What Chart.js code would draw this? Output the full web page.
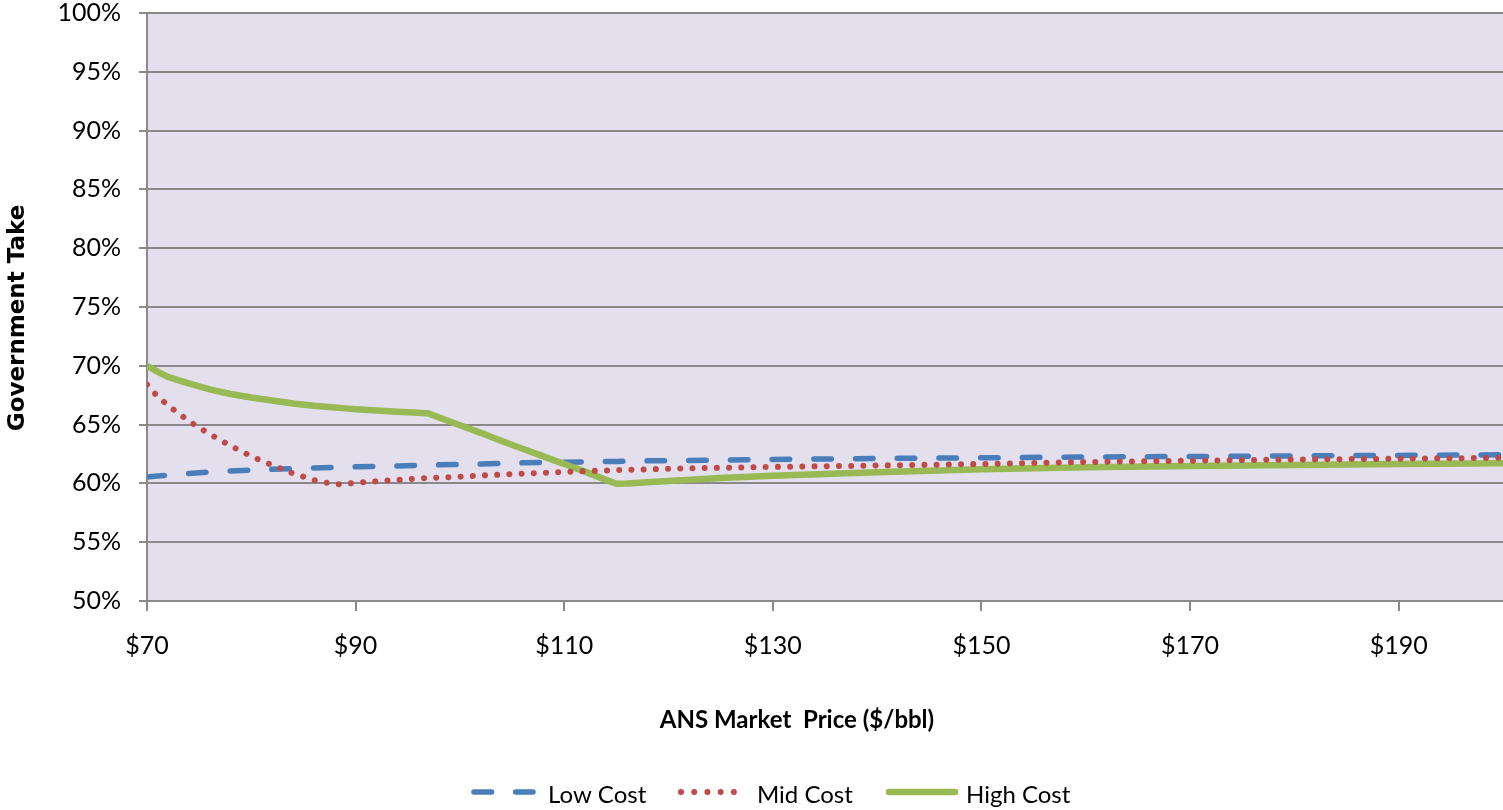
<!DOCTYPE html>
<html>
<head>
<meta charset="utf-8">
<script src="https://cdn.jsdelivr.net/npm/chart.js@4.4.1/dist/chart.umd.min.js"></script>
<style>
html,body{margin:0;padding:0;background:#ffffff;}
#wrap{width:1503px;height:810px;position:relative;}
</style>
</head>
<body>
<div id="wrap"><canvas id="c" width="1503" height="810"></canvas></div>
<script>
// ANS market price ($/bbl)
const prices = [70,71,72,74,76,78,80,82,84,86,88,89,90,92,94,96,97,98,100,102,104,106,108,110,112,114,115,116,118,120,125,130,140,150,160,170,180,190,200];
// Government take (%) by cost case
const lowCost  = [60.55,60.62,60.70,60.84,60.96,61.06,61.13,61.20,61.26,61.32,61.37,61.39,61.41,61.45,61.49,61.54,61.56,61.58,61.61,61.64,61.70,61.75,61.78,61.80,61.83,61.86,61.87,61.89,61.92,61.94,61.98,62.04,62.12,62.18,62.24,62.29,62.34,62.38,62.43];
const midCost  = [68.40,67.40,66.65,65.30,64.20,63.20,62.30,61.55,60.85,60.28,59.92,59.95,60.05,60.18,60.30,60.42,60.46,60.50,60.57,60.67,60.75,60.83,60.90,60.97,61.04,61.10,61.13,61.16,61.20,61.25,61.33,61.40,61.52,61.65,61.82,61.93,62.03,62.10,62.18];
const highCost = [70.00,69.50,69.05,68.50,68.00,67.60,67.30,67.05,66.80,66.60,66.45,66.38,66.30,66.20,66.10,66.00,65.95,65.60,64.95,64.30,63.60,62.95,62.30,61.65,61.00,60.30,59.97,60.00,60.10,60.20,60.45,60.65,60.95,61.20,61.38,61.48,61.57,61.64,61.72];

const seriesNames = ['Low Cost','Mid Cost','High Cost'];
const xTicks = [70,90,110,130,150,170,190];
const yTicks = [50,55,60,65,70,75,80,85,90,95,100];
const xTitle = 'ANS Market  Price ($/bbl)';
const yTitle = 'Government Take';

const BLUE = '#4A7EBB', RED = '#BE4B48', GREEN = '#98B954';
const GRID = '#898989';
const FAMILY = 'Lato, "Open Sans", sans-serif';
const TICK_FONT = {family:FAMILY, size:25};

function pts(vals){ return prices.map((p,i)=>({x:p, y:vals[i]})); }

const bgPlugin = {
  id:'plotBg',
  beforeDraw(chart){
    const {ctx, chartArea:a} = chart;
    ctx.save();
    ctx.fillStyle = '#E4DFEC';
    ctx.fillRect(a.left, a.top, a.right-a.left, a.bottom-a.top);
    ctx.restore();
  }
};

const textPlugin = {
  id:'titlesLegend',
  afterDraw(chart){
    const ctx = chart.ctx;
    ctx.save();
    // x axis title
    ctx.fillStyle = '#000';
    ctx.font = 'bold 24px ' + FAMILY;
    ctx.textAlign = 'center';
    ctx.textBaseline = 'middle';
    ctx.fillText(xTitle, 797, 720);
    // y axis title
    ctx.save();
    ctx.translate(24, 318);
    ctx.rotate(-Math.PI/2);
    ctx.font = 'bold 23px "DejaVu Sans",sans-serif';
    ctx.textAlign = 'center';
    ctx.textBaseline = 'alphabetic';
    ctx.fillText(yTitle, 0, 0);
    ctx.restore();
    // legend
    const ly = 792;
    const items = [
      {x1:474, x2:533, color:BLUE, w:5.5, dash:[17.5,24.2], tx:548},
      {x1:681, x2:747, color:RED, w:6, dash:[0.01,13.2], tx:757},
      {x1:889, x2:955, color:GREEN, w:6.5, dash:[], tx:966}
    ];
    items.forEach((it,i)=>{
      ctx.beginPath();
      ctx.strokeStyle = it.color;
      ctx.lineWidth = it.w;
      ctx.lineCap = 'round';
      ctx.setLineDash(it.dash);
      ctx.moveTo(it.x1, ly);
      ctx.lineTo(it.x2, ly);
      ctx.stroke();
      ctx.setLineDash([]);
      ctx.fillStyle = '#000';
      ctx.font = '24px ' + FAMILY;
      ctx.textAlign = 'left';
      ctx.textBaseline = 'middle';
      ctx.fillText(seriesNames[i], it.tx, 795);
    });
    ctx.restore();
  }
};

new Chart(document.getElementById('c'), {
  type:'line',
  data:{
    datasets:[
      {label:seriesNames[0], data:pts(lowCost), borderColor:BLUE, borderWidth:5.5, borderDash:[17.5,24.2], borderCapStyle:'round', pointRadius:0, tension:0, order:2, fill:false},
      {label:seriesNames[1], data:pts(midCost), borderColor:RED, borderWidth:6, borderDash:[0.01,12.2], borderCapStyle:'round', pointRadius:0, tension:0, order:0, fill:false},
      {label:seriesNames[2], data:pts(highCost), borderColor:GREEN, borderWidth:6.5, borderCapStyle:'butt', borderJoinStyle:'round', pointRadius:0, tension:0, order:1, fill:false}
    ]
  },
  options:{
    responsive:false,
    animation:false,
    devicePixelRatio:1,
    layout:{padding:0},
    plugins:{legend:{display:false}, tooltip:{enabled:false}, title:{display:false}},
    scales:{
      x:{
        type:'linear', min:70, max:200,
        afterBuildTicks:s=>{ s.ticks = xTicks.map(v=>({value:v})); },
        afterFit:s=>{ s.height = 209; s.paddingLeft = 0; s.paddingRight = 0; },
        ticks:{callback:v=>'$'+v, font:TICK_FONT, color:'#000', padding:20, maxRotation:0, autoSkip:false},
        grid:{drawOnChartArea:false, drawTicks:true, tickLength:10, color:GRID, lineWidth:2},
        border:{color:GRID, width:2}
      },
      y:{
        type:'linear', min:50, max:100,
        afterBuildTicks:s=>{ s.ticks = yTicks.map(v=>({value:v})); },
        afterFit:s=>{ s.width = 147; s.paddingTop = 13; s.paddingBottom = 0; },
        ticks:{callback:v=>v+'%', font:TICK_FONT, color:'#000', padding:18},
        grid:{color:GRID, lineWidth:2, tickLength:8},
        border:{color:GRID, width:2}
      }
    }
  },
  plugins:[bgPlugin, textPlugin]
});
</script>
</body>
</html>
